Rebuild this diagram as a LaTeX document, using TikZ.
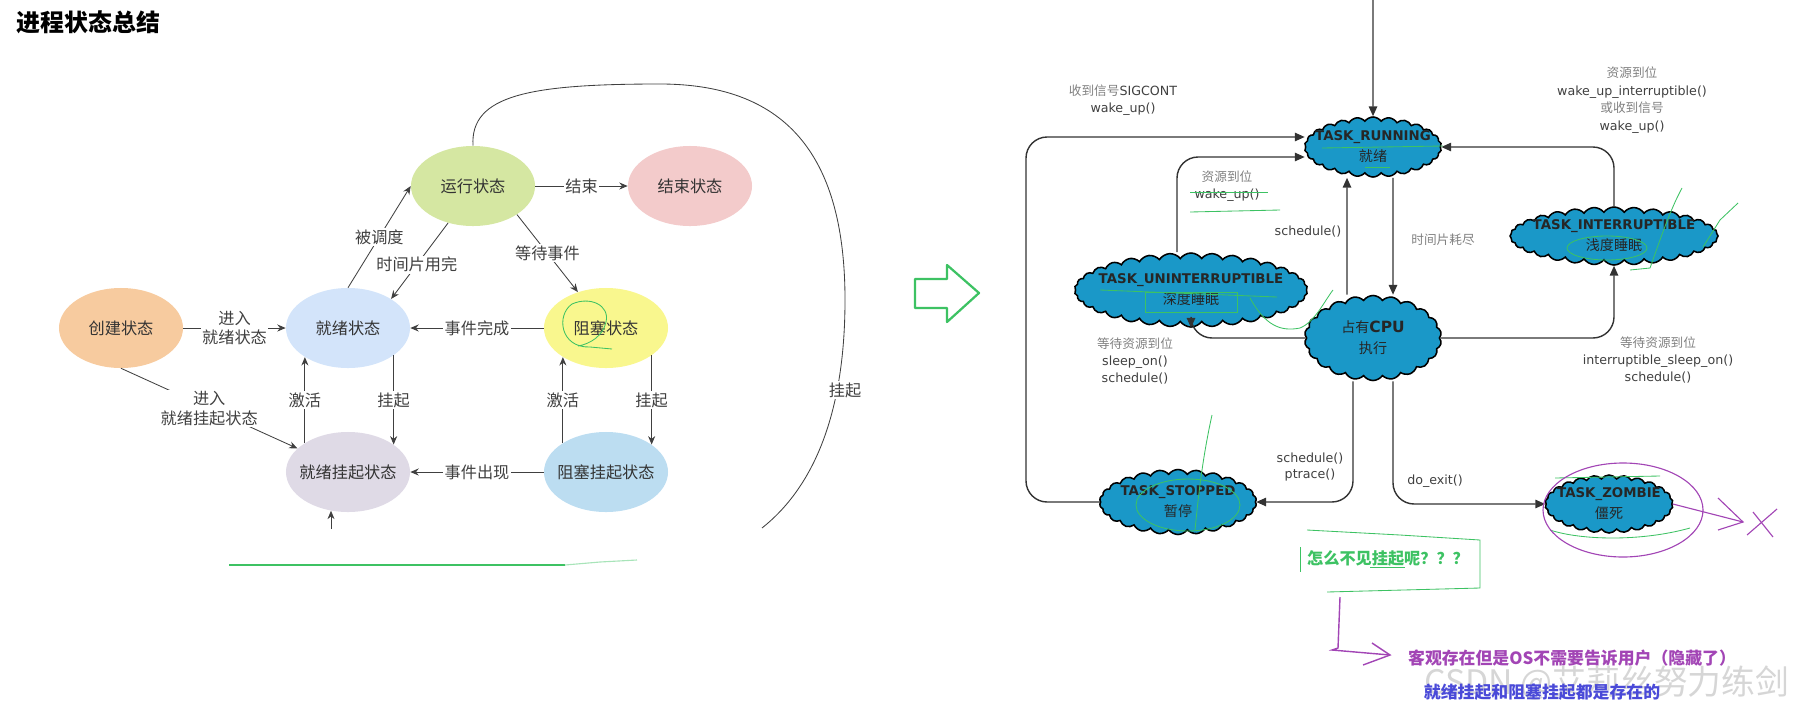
\documentclass[tikz,border=0pt]{standalone}
\usepackage{fontspec}
\setmainfont{Noto Sans CJK SC}
\newfontfamily\cjk{Noto Sans CJK SC}
\newfontfamily\dv{DejaVu Sans}
\usepackage{tikz}
\usetikzlibrary{arrows.meta,shapes.geometric,shapes.symbols}

\definecolor{ccreate}{HTML}{F7CB9F}
\definecolor{cready}{HTML}{D3E4FA}
\definecolor{crun}{HTML}{D5E7A2}
\definecolor{cend}{HTML}{F3CBCB}
\definecolor{cblock}{HTML}{F9F78E}
\definecolor{crsus}{HTML}{DFDAE6}
\definecolor{cbsus}{HTML}{BCDDF1}
\definecolor{ccloud}{HTML}{1A98C8}
\definecolor{cpen}{HTML}{3DC263}
\definecolor{cpurple}{HTML}{A245B5}
\definecolor{cnote}{HTML}{4A4AD8}

\newcommand\taskname{\dv\bfseries\fontsize{9.5}{11}\selectfont}
\newcommand\zh[1]{{\cjk\color{black!50}#1}}

\tikzset{
  state/.style={ellipse, draw=none, minimum width=3.1cm, minimum height=2cm,
    label={[font=\fontsize{11.5}{13}\selectfont, text=black!80]center:#1}},
  arr/.style={-{Stealth[length=6pt,width=5pt]}, draw=black!75, line width=0.6pt},
  lbl/.style={fill=white, inner sep=1pt, align=center,
    font=\fontsize{11.5}{14}\selectfont, text=black!75},
  task/.style={cloud, cloud puffs=26, cloud puff arc=110, cloud ignores aspect,
    draw=black, line width=1.1pt, fill=ccloud, inner sep=0pt},
  tasktext/.style={align=center, font=\fontsize{10}{15}\selectfont, text=black!85},
  rarr/.style={-{Triangle[length=7pt,width=6pt]}, draw=black!80, line width=1pt,
    rounded corners=15pt},
  note/.style={align=center, font=\dv\fontsize{9}{12}\selectfont, text=black!75},
  pen/.style={draw=cpen, line width=0.6pt},
  purplepen/.style={draw=cpurple, line width=0.8pt},
}

\begin{document}
\begin{tikzpicture}[x=0.025cm, y=-0.025cm]
  \useasboundingbox (0,0) rectangle (1801,718);
  % title
  \node[anchor=west, font=\fontsize{17}{20}\selectfont\bfseries] (title) at (12,22) {进程状态总结};

  % left diagram: states
  \node[state=创建状态, fill=ccreate] (create) at (121,328) {};
  \node[state=就绪状态, fill=cready] (ready) at (348,328) {};
  \node[state=就绪挂起状态, fill=crsus] (readysus) at (348,472) {};
  \node[state=运行状态, fill=crun] (run) at (473,186) {};
  \node[state=结束状态, fill=cend] (end) at (690,186) {};
  \node[state=阻塞状态, fill=cblock] (block) at (606,328) {};
  \node[state=阻塞挂起状态, fill=cbsus] (blocksus) at (606,472) {};

  % left diagram: transitions
  \draw[arr] (create) -- node[lbl] {进入\\就绪状态} (ready);
  \draw[arr] (create.south) -- node[lbl] {进入\\就绪挂起状态} (readysus.155);
  \draw[arr] (ready.north) -- node[lbl] {被调度} (run.west);
  \draw[arr] (run.236) -- node[lbl, pos=0.55] {时间片用完} (ready.34);
  \draw[arr] (run) -- node[lbl] {结束} (end);
  \draw[arr] (run.327) -- node[lbl] {等待事件} (block.128);
  \draw[arr] (block) -- node[lbl] {事件完成} (ready);
  \draw[arr] (blocksus) -- node[lbl] {事件出现} (readysus);
  \draw[arr] (readysus.146) -- node[lbl] {激活} (ready.214);
  \draw[arr] (ready.329) -- node[lbl] {挂起} (readysus.31);
  \draw[arr] (blocksus.146) -- node[lbl] {激活} (block.214);
  \draw[arr] (block.329) -- node[lbl] {挂起} (blocksus.31);

  % the long suspend curve
  \coordinate (susEnd) at (762,528);
  \coordinate (susTail) at (331,529);
  \draw[draw=black!75, line width=0.6pt] (run.north) .. controls (470,95) and (530,84) .. (660,84)
    .. controls (790,84) and (845,160) .. (845,300) .. controls (845,420) and (810,490) .. (susEnd);
  \node[lbl] (susLbl) at (845,390) {挂起};
  \draw[arr] (susTail) -- (susTail |- readysus.246);

  % pen marks, left
  \draw[pen] (612,349) -- (590,347) .. controls (560,348) and (556,315) .. (572,304)
    .. controls (590,296) and (610,305) .. (606,322) .. controls (603,336) and (590,344) .. (578,346);
  \draw[draw=cpen, line width=1pt] (229,565) -- (565,565);
  \draw[draw=cpen!45, line width=0.8pt] (565,565) -- (600,562) -- (637,560);

  % big green arrow
  \draw[draw=cpen, line width=1.6pt, line join=round] (915,279) -- (947,279) -- (947,265)
    -- (979,293) -- (947,322) -- (947,308) -- (915,308) -- cycle;

  % right diagram: tasks
  \node[task, minimum width=3.425cm, minimum height=1.5cm,
    label={[tasktext]center:{\taskname TASK\_RUNNING}\\就绪}] (running) at (1373,147) {};
  \node[task, cloud puffs=34, minimum width=5.825cm, minimum height=1.85cm,
    label={[tasktext]center:{\taskname TASK\_UNINTERRUPTIBLE}\\深度睡眠}] (unint) at (1191,290) {};
  \node[task, cloud puffs=22, minimum width=3.425cm, minimum height=2.125cm,
    label={[tasktext]center:占有{\dv\bfseries\fontsize{11}{13}\selectfont CPU}\\执行}] (cpu) at (1373,338) {};
  \node[task, cloud puffs=32, minimum width=5.2cm, minimum height=1.45cm,
    label={[tasktext]center:{\taskname TASK\_INTERRUPTIBLE}\\浅度睡眠}] (int) at (1614,236) {};
  \node[task, minimum width=3.925cm, minimum height=1.625cm,
    label={[tasktext]center:{\taskname TASK\_STOPPED}\\暂停}] (stopped) at (1178,502) {};
  \node[task, minimum width=3.2cm, minimum height=1.45cm,
    label={[tasktext]center:{\taskname TASK\_ZOMBIE}\\僵死}] (zombie) at (1609,504) {};

  % right diagram: transitions
  \coordinate (start) at (1373,0);
  \draw[rarr] (start) -- (running.north);
  \draw[rarr] (stopped.west) -| (1026,137) -- ([shift={(0,-10)}]running.west);
  \draw[rarr] ([shift={(-14,0)}]unint.north) |- ([shift={(0,10)}]running.west);
  \draw[rarr] ([shift={(-26,0)}]cpu.north) -- ([shift={(-26,0)}]running.south);
  \draw[rarr] ([shift={(20,0)}]running.south) -- ([shift={(20,0)}]cpu.north);
  \draw[rarr] (cpu.west) -| (unint.south);
  \draw[rarr] (cpu.east) -| (int.south);
  \draw[rarr] (int.north) |- (running.east);
  \draw[rarr] ([shift={(-20,0)}]cpu.south) |- (stopped.east);
  \draw[rarr] ([shift={(20,0)}]cpu.south) |- (zombie.west);

  % right diagram: labels
  \node[note] (sigLbl) at (1123,100) {\zh{收到信号}SIGCONT\\wake\_up()};
  \node[note] (wakeLbl) at (1227,186) {\zh{资源到位}\\wake\_up()};
  \node[note] (schedLbl) at (1308,232) {schedule()};
  \node[note] (sliceLbl) at (1443,240) {\zh{时间片耗尽}};
  \node[note] (sleepLbl) at (1135,361) {\zh{等待资源到位}\\sleep\_on()\\schedule()};
  \node[note] (isleepLbl) at (1658,360) {\zh{等待资源到位}\\interruptible\_sleep\_on()\\schedule()};
  \node[note, font=\dv\fontsize{9}{12.5}\selectfont] (iwakeLbl) at (1632,100)
    {\zh{资源到位}\\wake\_up\_interruptible()\\\zh{或收到信号}\\wake\_up()};
  \node[note] (stopLbl) at (1310,467) {schedule()\\ptrace()};
  \node[note] (exitLbl) at (1435,481) {do\_exit()};

  % pen marks, right
  \draw[pen] (1322,148) -- (1443,146);
  \draw[pen] (1365,167) -- (1390,167);
  \draw[pen] (1190,192) -- (1268,192);
  \draw[pen] (1190,212) -- (1235,211) -- (1280,210);
  \draw[pen] (1100,290) -- (1277,297);
  \draw[pen] (1145,292) rectangle (1237,312);
  \draw[pen] (1250,298) .. controls (1265,325) and (1280,332) .. (1300,328) .. controls (1315,322) and (1325,300) .. (1333,290);
  \draw[pen] (1607,248) ellipse (40 and 12);
  \draw[pen] (1630,270) -- (1650,268) .. controls (1660,240) and (1670,210) .. (1682,188);
  \draw[pen] (1703,247) -- (1720,220) -- (1738,203);
  \draw[pen] (1212,415) .. controls (1202,460) and (1198,500) .. (1195,530);
  \draw[pen] (1188,505) ellipse (52 and 26);
  \draw[pen] (1555,478) -- (1660,476);
  \draw[pen] (1550,530) .. controls (1580,540) and (1640,542) .. (1690,528);

  % question box
  \node[font=\fontsize{11.5}{13}\selectfont\bfseries, text=cpen] (quest) at (1388,558) {怎么不见挂起呢？？？};
  \draw[pen] (1307,530) -- (1400,535) -- (1480,540) -- (1480,588) -- (1327,592);
  \draw[pen] (1300,547) -- (1300,572);
  \draw[pen] (1370,567) -- (1405,567);

  % zombie marks
  \draw[purplepen] (1623,510) ellipse (80 and 47);
  \draw[purplepen] (zombie.east) -- (1743,522);
  \draw[purplepen] (1718,498) -- (1743,522) -- (1718,530);
  \draw[purplepen] (1753,512) -- (1773,537);
  \draw[purplepen] (1747,535) -- (1777,509);

  % bottom notes
  \draw[purplepen, line width=1pt] (1340,597) -- (1338,648) -- (1332,650) -- (1390,655);
  \draw[purplepen, line width=1pt] (1372,643) -- (1390,655) -- (1363,665);
  \node[font=\fontsize{12}{14}\selectfont\bfseries, text=cpurple] (hidden) at (1572,658)
    {客观存在但是OS不需要告诉用户（隐藏了）};
  \node[font=\fontsize{24}{26}\selectfont, text=black!16] (mark) at (1607,683) {CSDN @艾莉丝努力练剑};
  \node[font=\fontsize{12}{14}\selectfont\bfseries, text=cnote] (exist) at (1542,692)
    {就绪挂起和阻塞挂起都是存在的};
\end{tikzpicture}
\end{document}
